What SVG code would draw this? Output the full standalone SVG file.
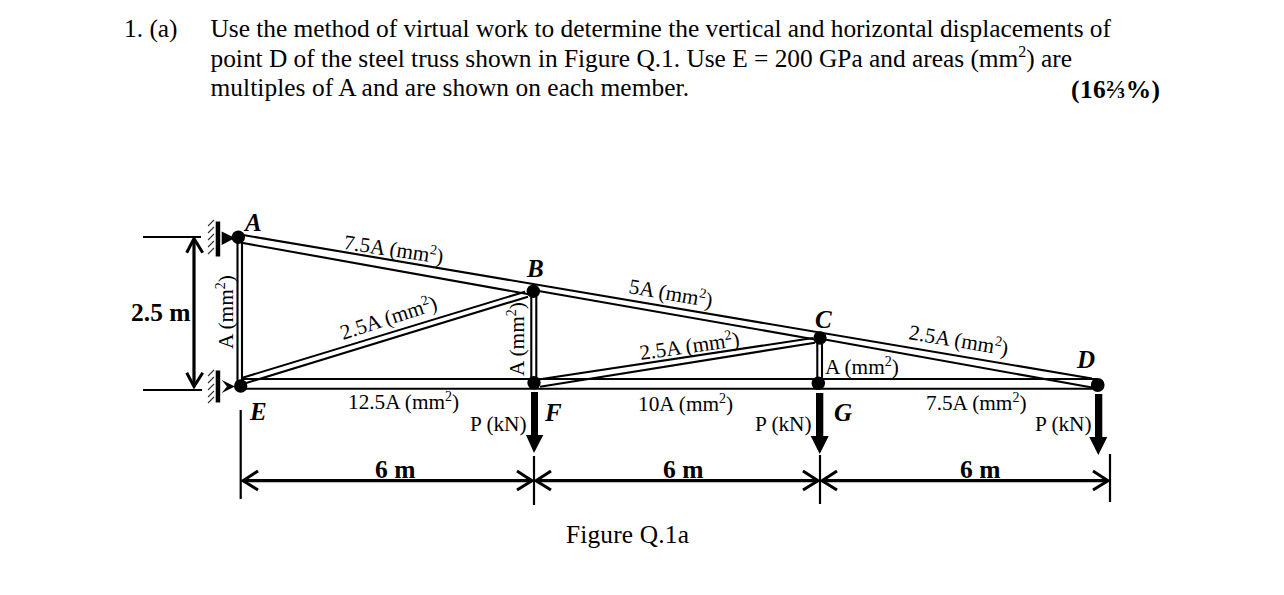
<svg xmlns="http://www.w3.org/2000/svg" width="1284" height="595" viewBox="0 0 1284 595">
<style>
text{font-family:"Liberation Serif","Times New Roman",serif;fill:#000}
.q{font-size:25.4px}
.l{font-size:21.3px}
.b{font-weight:bold;font-size:25.5px}
.n{font-weight:bold;font-style:italic;font-size:25px}
.s{font-size:14px}
.p{font-size:16px}
.m{stroke:#000;stroke-width:2.1;fill:none}
.d{stroke:#000;stroke-width:3.2;fill:none}
.t{stroke:#000;stroke-width:2.2;fill:none}
.h{stroke:#333;stroke-width:1.1;fill:none}
.o{stroke:#000;stroke-width:3;fill:none}
</style>
<rect width="1284" height="595" fill="#fff"/>
<g id="question">
<text class="q" x="124" y="37">1. (a)</text>
<text class="q" x="210.500" y="37" textLength="900.500">Use the method of virtual work to determine the vertical and horizontal displacements of</text>
<text class="q" x="210.500" y="67" textLength="861.500">point D of the steel truss shown in Figure Q.1. Use E = 200 GPa and areas (mm<tspan class="p" dy="-10">2</tspan><tspan dy="10">) are</tspan></text>
<text class="q" x="210.500" y="96" textLength="478.500">multiples of A and are shown on each member.</text>
<text class="q" x="1071" y="98" font-weight="bold" textLength="89">(16⅔%)</text>
</g>
<g id="connectors">
<path class="m" d="M237.500 237V383M242 237V383"/>
<path class="m" d="M243 235L1092 378.500"/>
<path class="m" d="M243 243L533 295M533 290L818 340M822 339L1092 387.500"/>
<path class="m" d="M241 379H1097M241 388.700H1097"/>
<path class="m" d="M241.700 378L525 291.700M243 384L528 296.700"/>
<path class="m" d="M531.300 292V382M536.300 292V382"/>
<path class="m" d="M540 379.300L813 338M540 386.700L815 342.700"/>
<path class="m" d="M817.300 338V383M822 338V383"/>
<path class="t" d="M143 237H201M143 390H202"/>
<path class="d" d="M194 240V385"/>
<path class="o" d="M186.700 252.700L194 238.500L202.700 252.700M186.700 372.700L194 386.500L202.700 372.700"/>
<path class="t" d="M240.700 410V499M534 456V505M820 455V504M1110 454V502"/>
<path class="d" d="M243 480.700H532M536 480.700H818M822 480.700H1108"/>
<path class="o" d="M258 471L243 480.700L258 490M517 471L532 480.700L517 490M551 471L536 480.700L551 490M803 471L818 480.700L803 490M837 471L822 480.700L837 490M1093 471L1108 480.700L1093 490"/>
<path d="M531 392H538V435H543.300L534 453L526 435H531Z"/>
<path d="M816 393H823.300V436H828.700L819.700 454L810.700 436H816Z"/>
<path d="M1095 394H1102.300V437H1107.300L1098.300 455L1089.300 437H1095Z"/>
</g>
<g id="node-A">
<rect x="215.700" y="221.500" width="4.500" height="35"/>
<path d="M221.700 231.500V245L235 238Z"/>
<path class="h" d="M208 226L214 220M208 233L214 227M208 240L214 234M208 247L214 241M208 254L214 248"/>
<circle cx="238.300" cy="237.300" r="6.700"/>
<text class="n" x="245" y="231">A</text>
</g>
<g id="node-E">
<rect x="215.700" y="370.500" width="4.500" height="32"/>
<path d="M221.700 380L227 386.500L221.700 393L235 386.500Z"/>
<path class="h" d="M208 376L214 370M208 383L214 377M208 390L214 384M208 397L214 391M208 403L214 397"/>
<circle cx="240.700" cy="386" r="6.700"/>
<text class="n" x="250" y="420">E</text>
</g>
<g id="node-B"><circle cx="533.300" cy="291.300" r="6.700"/><text class="n" x="527" y="277">B</text></g>
<g id="node-F"><circle cx="534" cy="382.700" r="6.700"/><text class="n" x="545" y="420.700">F</text></g>
<g id="node-C"><circle cx="820" cy="338" r="6.700"/><text class="n" x="815" y="328">C</text></g>
<g id="node-G"><circle cx="818.300" cy="383.300" r="6.700"/><text class="n" x="834" y="420.700">G</text></g>
<g id="node-D"><circle cx="1097.700" cy="385" r="6.900"/><text class="n" x="1077" y="368">D</text></g>
<g id="labels">
<text class="b" x="131" y="320.700">2.5 m</text>
<text class="l" transform="translate(343 249) rotate(8.500)">7.5A (mm<tspan class="s" dy="-8">2</tspan><tspan dy="8">)</tspan></text>
<text class="l" transform="translate(343 340) rotate(-18)">2.5A (mm<tspan class="s" dy="-8">2</tspan><tspan dy="8">)</tspan></text>
<text class="l" transform="translate(232.700 349) rotate(-90)">A (mm<tspan class="s" dy="-8">2</tspan><tspan dy="8">)</tspan></text>
<text class="l" x="348" y="409">12.5A (mm<tspan class="s" dy="-8">2</tspan><tspan dy="8">)</tspan></text>
<text class="l" transform="translate(628 293) rotate(10)">5A (mm<tspan class="s" dy="-8">2</tspan><tspan dy="8">)</tspan></text>
<text class="l" transform="translate(524 376) rotate(-90)">A (mm<tspan class="s" dy="-8">2</tspan><tspan dy="8">)</tspan></text>
<text class="l" transform="translate(640.700 360) rotate(-8)">2.5A (mm<tspan class="s" dy="-8">2</tspan><tspan dy="8">)</tspan></text>
<text class="l" x="638" y="410.700">10A (mm<tspan class="s" dy="-8">2</tspan><tspan dy="8">)</tspan></text>
<text class="l" transform="translate(908 339) rotate(9.500)">2.5A (mm<tspan class="s" dy="-8">2</tspan><tspan dy="8">)</tspan></text>
<text class="l" x="825" y="374">A (mm<tspan class="s" dy="-8">2</tspan><tspan dy="8">)</tspan></text>
<text class="l" x="926" y="410">7.5A (mm<tspan class="s" dy="-8">2</tspan><tspan dy="8">)</tspan></text>
<text class="l" x="470" y="430.700">P (kN)</text>
<text class="l" x="755" y="430.700">P (kN)</text>
<text class="l" x="1035" y="430.700">P (kN)</text>
<text class="b" x="375" y="477.500">6 m</text>
<text class="b" x="663" y="477.500">6 m</text>
<text class="b" x="960" y="477.500">6 m</text>
<text class="q" x="566" y="543" textLength="123">Figure Q.1a</text>
</g>
</svg>
